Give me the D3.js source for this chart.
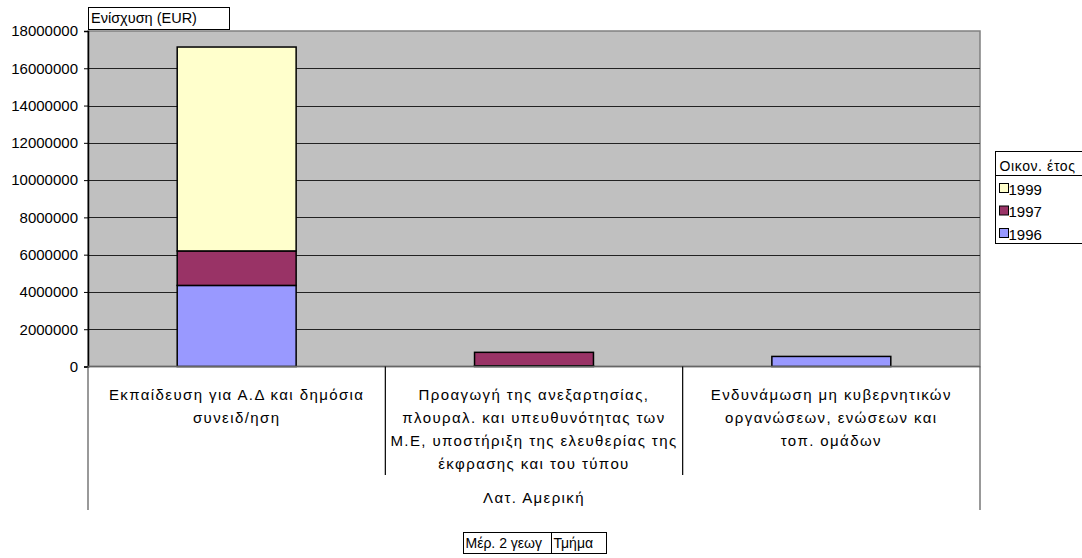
<!DOCTYPE html>
<html>
<head>
<meta charset="utf-8">
<script src="https://cdn.jsdelivr.net/npm/d3@7"></script>
<style>
  body { margin: 0; background: #fff; }
  svg { display: block; font-family: "Liberation Sans", Arial, sans-serif; }
</style>
</head>
<body>
<svg id="chart" width="1082" height="558"></svg>
<script>
// Funding per activity (EUR), Latin America, by fiscal year
const categories = [
  ["Εκπαίδευση για Α.Δ και δημόσια", "συνειδ/ηση"],
  ["Προαγωγή της ανεξαρτησίας,", "πλουραλ. και υπευθυνότητας των", "Μ.Ε, υποστήριξη της ελευθερίας της", "έκφρασης και του τύπου"],
  ["Ενδυνάμωση μη κυβερνητικών", "οργανώσεων, ενώσεων και", "τοπ. ομάδων"]
];
const years = ["1996", "1997", "1999"];
const values1996 = [4350000, 40000, 540000];
const values1997 = [1850000, 720000, 0];
const values1999 = [10940000, 0, 0];
const yTicks = [0, 2000000, 4000000, 6000000, 8000000, 10000000, 12000000, 14000000, 16000000, 18000000];
const groupLabel = "Λατ. Αμερική";
const yTitle = "Ενίσχυση (EUR)";
const legendTitle = "Οικον. έτος";
const pageFields = ["Μέρ. 2 γεωγ", "Τμήμα"];
const colors = { "1996": "#9999FF", "1997": "#993366", "1999": "#FFFFCC" };

const rows = categories.map((c, i) => ({
  idx: i,
  "1996": values1996[i],
  "1997": values1997[i],
  "1999": values1999[i]
}));

const svg = d3.select("#chart");
const plotL = 88, plotR = 980, plotT = 31, plotB = 366.5;

const x = d3.scaleBand().domain(d3.range(categories.length)).range([plotL, plotR]).paddingInner(0).paddingOuter(0);
const y = d3.scaleLinear().domain([0, 18000000]).range([plotB, plotT]);

// plot background
svg.append("rect").attr("x", plotL).attr("y", plotT).attr("width", plotR - plotL).attr("height", plotB - plotT)
  .attr("fill", "#C0C0C0").attr("stroke", "#808080").attr("stroke-width", 1.5);

// gridlines
svg.append("g").selectAll("line").data(yTicks.filter(d => d > 0 && d < 18000000)).join("line")
  .attr("x1", plotL).attr("x2", plotR)
  .attr("y1", d => Math.round(y(d)) + 0.5).attr("y2", d => Math.round(y(d)) + 0.5)
  .attr("stroke", "#222").attr("stroke-width", 1);

// stacked bars
const stack = d3.stack().keys(years)(rows);
const barW = x.bandwidth() * 0.4;
svg.append("g").selectAll("g").data(stack).join("g")
  .attr("fill", d => colors[d.key])
  .selectAll("rect").data(d => d.filter(s => s[1] - s[0] > 0)).join("rect")
  .attr("x", d => x(d.data.idx) + (x.bandwidth() - barW) / 2)
  .attr("width", barW)
  .attr("y", d => y(d[1]))
  .attr("height", d => y(d[0]) - y(d[1]))
  .attr("stroke", "#000").attr("stroke-width", 1.5);

// y axis
const yAxis = d3.axisLeft(y).tickValues(yTicks).tickFormat(d3.format("d")).tickSize(4).tickPadding(6);
const ya = svg.append("g").attr("transform", `translate(${plotL},0)`).call(yAxis);
ya.select(".domain").attr("stroke", "#000").attr("stroke-width", 1.5);
ya.selectAll(".tick line").attr("stroke", "#000");
ya.selectAll("text").attr("font-size", 15).attr("fill", "#000").attr("font-family", "Liberation Sans, Arial, sans-serif");

// bottom axis line
svg.append("line").attr("x1", plotL).attr("x2", plotR).attr("y1", plotB).attr("y2", plotB)
  .attr("stroke", "#666").attr("stroke-width", 1.5);

// category divider lines
const dividers = d3.range(categories.length + 1).map(i => i === categories.length ? plotR : x(i));
svg.append("g").selectAll("line").data(dividers).join("line")
  .attr("x1", d => d).attr("x2", d => d)
  .attr("y1", plotB)
  .attr("y2", (d, i) => (i === 0 || i === categories.length) ? 510 : 475)
  .attr("stroke", (d, i) => (i === 0 || i === categories.length) ? "#555" : "#000")
  .attr("stroke-width", 1.2);

// category labels
const lab = svg.append("g").attr("font-size", 15).attr("letter-spacing", 1.4)
  .attr("fill", "#000").attr("text-anchor", "middle");
categories.forEach((lines, i) => {
  lines.forEach((ln, j) => {
    lab.append("text")
      .attr("x", x(i) + x.bandwidth() / 2)
      .attr("y", 400 + j * 23)
      .text(ln);
  });
});
svg.append("text").attr("x", (plotL + plotR) / 2).attr("y", 503)
  .attr("text-anchor", "middle").attr("font-size", 15).attr("letter-spacing", 1.4).text(groupLabel);

// y title box
svg.append("rect").attr("x", 88.5).attr("y", 7.5).attr("width", 141).attr("height", 22)
  .attr("fill", "#fff").attr("stroke", "#000");
svg.append("text").attr("x", 91).attr("y", 23).attr("font-size", 14.5).text(yTitle);

// legend
const lg = svg.append("g").attr("transform", "translate(995.5,151.5)");
lg.append("rect").attr("width", 90).attr("height", 92).attr("fill", "#fff").attr("stroke", "#000");
lg.append("line").attr("x1", 0).attr("x2", 90).attr("y1", 24).attr("y2", 24).attr("stroke", "#000");
lg.append("text").attr("x", 4).attr("y", 19).attr("font-size", 14).attr("letter-spacing", 0.6).text(legendTitle);
const legendKeys = years.slice().reverse();
legendKeys.forEach((k, i) => {
  const yy = 32 + i * 22.5;
  lg.append("rect").attr("x", 4).attr("y", yy).attr("width", 9).attr("height", 9)
    .attr("fill", colors[k]).attr("stroke", "#000");
  lg.append("text").attr("x", 13).attr("y", yy + 11).attr("font-size", 15).text(k);
});

// page field buttons
const fieldX = [463.5, 551.5], fieldW = [88, 55];
pageFields.forEach((t, i) => {
  svg.append("rect").attr("x", fieldX[i]).attr("y", 532.5).attr("width", fieldW[i]).attr("height", 21)
    .attr("fill", "#fff").attr("stroke", "#000");
  svg.append("text").attr("x", fieldX[i] + 2).attr("y", 548).attr("font-size", 14).text(t);
});
</script>
</body>
</html>
